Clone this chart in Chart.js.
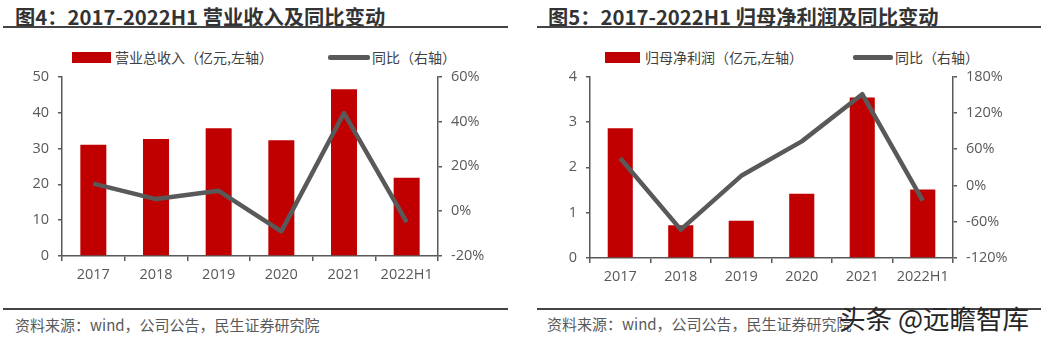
<!DOCTYPE html>
<html>
<head>
<meta charset="utf-8">
<script src="https://cdn.jsdelivr.net/npm/chart.js@4"></script>
<style>
  body { margin: 0; width: 1041px; height: 344px; background: #fff; position: relative; overflow: hidden;
         font-family: 'Noto Sans CJK SC', sans-serif; }
  .abs { position: absolute; }
  .title { font-size: 20.3px; font-weight: bold; color: #333; white-space: nowrap; line-height: 20px; }
  .rule { height: 2px; background: #444; }
  .leg { font-size: 14px; color: #404040; white-space: nowrap; line-height: 14px; }
  .box { background: #C00000; height: 11px; }
  .ln { background: #595959; height: 4.5px; border-radius: 2px; }
  .src { font-size: 15px; color: #595959; white-space: nowrap; line-height: 15px; }
  .wm { font-size: 26.5px; color: #262626; white-space: nowrap; line-height: 26px; }
</style>
</head>
<body>
<div class="abs title" style="left:15px;top:6px">图4：2017-2022H1 营业收入及同比变动</div>
<div class="abs rule" style="left:3px;top:26px;width:505px"></div>
<div class="abs title" style="left:548px;top:6px">图5：2017-2022H1 归母净利润及同比变动</div>
<div class="abs rule" style="left:537px;top:26px;width:504px"></div>

<div class="abs box" style="left:72px;top:52px;width:39px"></div>
<div class="abs leg" id="leg1a" style="left:115px;top:50px"></div>
<div class="abs ln" style="left:328px;top:55px;width:42px"></div>
<div class="abs leg" id="leg1b" style="left:372px;top:50px"></div>

<div class="abs box" style="left:605px;top:52px;width:35px"></div>
<div class="abs leg" id="leg2a" style="left:645px;top:50px"></div>
<div class="abs ln" style="left:853px;top:55px;width:40px"></div>
<div class="abs leg" id="leg2b" style="left:895px;top:50px"></div>

<div class="abs" style="left:0;top:59px;width:510px;height:227px"><canvas id="c1"></canvas></div>
<div class="abs" style="left:520px;top:59px;width:521px;height:229px"><canvas id="c2"></canvas></div>

<div class="abs rule" style="left:3px;top:308px;width:505px"></div>
<div class="abs rule" style="left:537px;top:308px;width:504px"></div>
<div class="abs src" style="left:15px;top:317px">资料来源：wind，公司公告，民生证券研究院</div>
<div class="abs src" style="left:547px;top:316px">资料来源：wind，公司公告，民生证券研究院</div>
<div class="abs wm" style="left:839px;top:305px">头条 @远瞻智库</div>

<script>
const categories = ['2017', '2018', '2019', '2020', '2021', '2022H1'];
const revenue = [31.0, 32.6, 35.6, 32.3, 46.5, 21.8];
const revenueYoy = [12.3, 5.4, 9.1, -9.0, 43.8, -4.9];
const profit = [2.86, 0.72, 0.82, 1.42, 3.54, 1.51];
const profitYoy = [45, -73, 16, 73, 151, -25];
const revenueLabel = '营业总收入（亿元,左轴）';
const profitLabel = '归母净利润（亿元,左轴）';
const yoyLabel = '同比（右轴）';

document.getElementById('leg1a').textContent = revenueLabel;
document.getElementById('leg1b').textContent = yoyLabel;
document.getElementById('leg2a').textContent = profitLabel;
document.getElementById('leg2b').textContent = yoyLabel;

const axisColor = '#595959';
const tickFont = { family: "'Open Sans', 'Noto Sans CJK SC', sans-serif", size: 14.5 };

function makeChart(id, barLabel, bars, yoy, leftAxis, rightAxis, widths) {
  const ctx = document.getElementById(id).getContext('2d');
  return new Chart(ctx, {
    data: {
      labels: categories,
      datasets: [
        {
          type: 'line', label: yoyLabel, data: yoy, yAxisID: 'y1', order: 0,
          borderColor: '#595959', borderWidth: 4.5, pointRadius: 0, tension: 0,
          borderJoinStyle: 'round'
        },
        {
          type: 'bar', label: barLabel, data: bars, yAxisID: 'y', order: 1,
          backgroundColor: '#C00000', barPercentage: 0.415, categoryPercentage: 1
        }
      ]
    },
    options: {
      responsive: true,
      maintainAspectRatio: false,
      animation: false,
      layout: { padding: { top: 1, left: 0, right: 0, bottom: 0 } },
      plugins: { legend: { display: false }, tooltip: { enabled: false } },
      scales: {
        x: {
          grid: { offset: true, drawOnChartArea: false, tickLength: 5, color: axisColor, lineWidth: 1.5 },
          border: { color: axisColor, width: 1.5 },
          ticks: { font: tickFont, color: '#595959', padding: 5, maxRotation: 0 },
          afterFit: s => { s.height = 30; }
        },
        y: {
          position: 'left', min: leftAxis.min, max: leftAxis.max,
          grid: { drawOnChartArea: false, tickLength: 4, color: axisColor, lineWidth: 1.5 },
          border: { color: axisColor, width: 1.5 },
          ticks: { stepSize: leftAxis.step, font: tickFont, color: '#595959', padding: 9 },
          afterFit: s => { s.width = widths[0]; }
        },
        y1: {
          position: 'right', min: rightAxis.min, max: rightAxis.max,
          grid: { drawOnChartArea: false, tickLength: 4, color: axisColor, lineWidth: 1.5 },
          border: { color: axisColor, width: 1.5 },
          ticks: { stepSize: rightAxis.step, font: tickFont, color: '#595959', padding: 9,
                   callback: v => v + '%' },
          afterFit: s => { s.width = widths[1]; }
        }
      }
    }
  });
}

makeChart('c1', revenueLabel, revenue, revenueYoy,
  { min: 0, max: 50, step: 10 }, { min: -20, max: 60, step: 20 }, [62, 72]);
makeChart('c2', profitLabel, profit, profitYoy,
  { min: 0, max: 4, step: 1 }, { min: -120, max: 180, step: 60 }, [70, 88]);
</script>
</body>
</html>
